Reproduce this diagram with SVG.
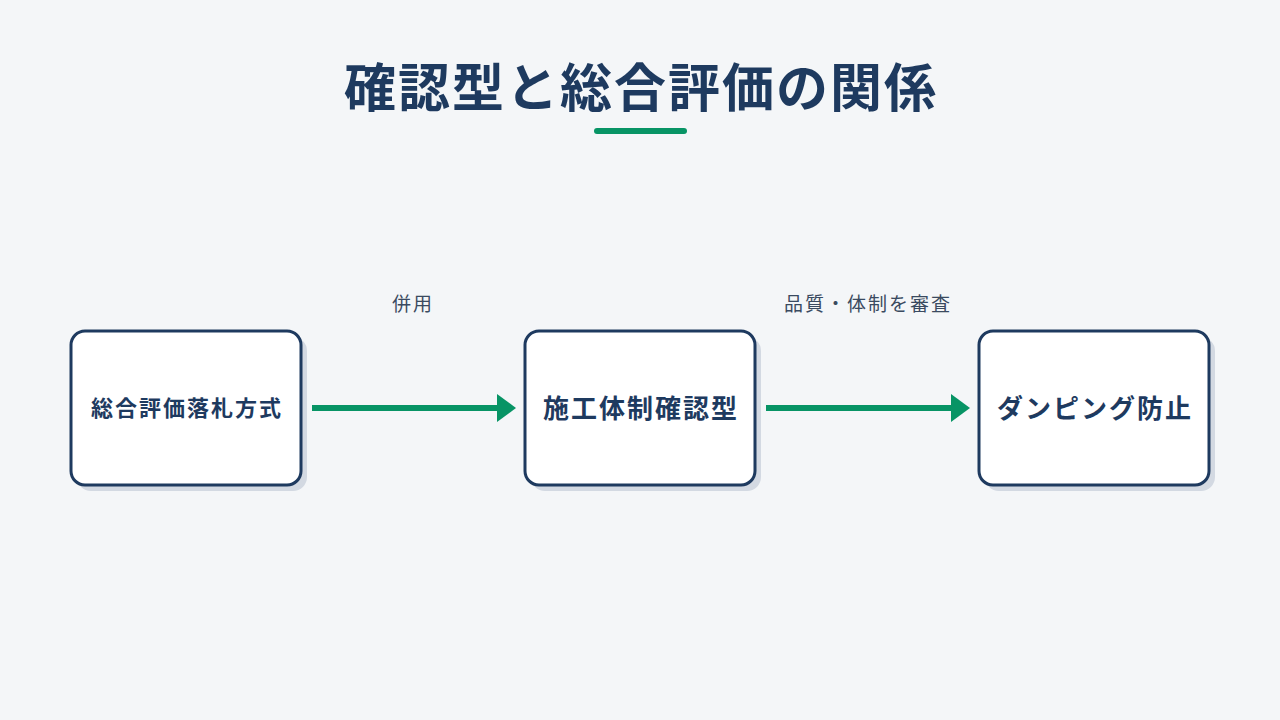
<svg xmlns="http://www.w3.org/2000/svg" width="1280" height="720" viewBox="0 0 1280 720">
<defs>
<style>
.bg{fill:#f4f6f8}
.shadow{fill:#d3d9e2}
.box{fill:#ffffff;stroke:#1e3a5f;stroke-width:3}
.t{font-family:"Noto Sans CJK JP","Noto Sans",sans-serif;fill:#1e3a5f;text-anchor:middle;dominant-baseline:central;font-weight:700}
.lbl{font-family:"Noto Sans CJK JP","Noto Sans",sans-serif;fill:#3a4a60;text-anchor:middle;font-size:19px;letter-spacing:2px}
.conn{stroke:#079465;stroke-width:6;fill:none}
</style>
<marker id="ah" markerUnits="userSpaceOnUse" markerWidth="20" markerHeight="28" refX="0" refY="14" orient="auto">
<path d="M0,0 L19,14 L0,28 Z" fill="#079465"/>
</marker>
</defs>
<rect class="bg" x="0" y="0" width="1280" height="720"/>
<g id="title">
<text class="t" x="641" y="84" font-size="52" letter-spacing="2">確認型と総合評価の関係</text>
<rect x="594" y="128" width="93" height="6" rx="3" fill="#079465"/>
</g>
<g id="connectors">
<line class="conn" x1="312" y1="408" x2="497" y2="408" marker-end="url(#ah)"/>
<line class="conn" x1="766" y1="408" x2="951" y2="408" marker-end="url(#ah)"/>
<text class="lbl" x="413" y="311">併用</text>
<text class="lbl" x="868" y="311">品質・体制を審査</text>
</g>
<g id="node1">
<rect class="shadow" x="77" y="337" width="230" height="154" rx="14"/>
<rect class="box" x="71" y="331" width="230" height="154" rx="14"/>
<text class="t" x="187" y="406" font-size="22" letter-spacing="2">総合評価落札方式</text>
</g>
<g id="node2">
<rect class="shadow" x="531" y="337" width="230" height="154" rx="14"/>
<rect class="box" x="525" y="331" width="230" height="154" rx="14"/>
<text class="t" x="641" y="406" font-size="26" letter-spacing="2">施工体制確認型</text>
</g>
<g id="node3">
<rect class="shadow" x="985" y="337" width="230" height="154" rx="14"/>
<rect class="box" x="979" y="331" width="230" height="154" rx="14"/>
<text class="t" x="1095" y="406" font-size="26" letter-spacing="2">ダンピング防止</text>
</g>
</svg>
